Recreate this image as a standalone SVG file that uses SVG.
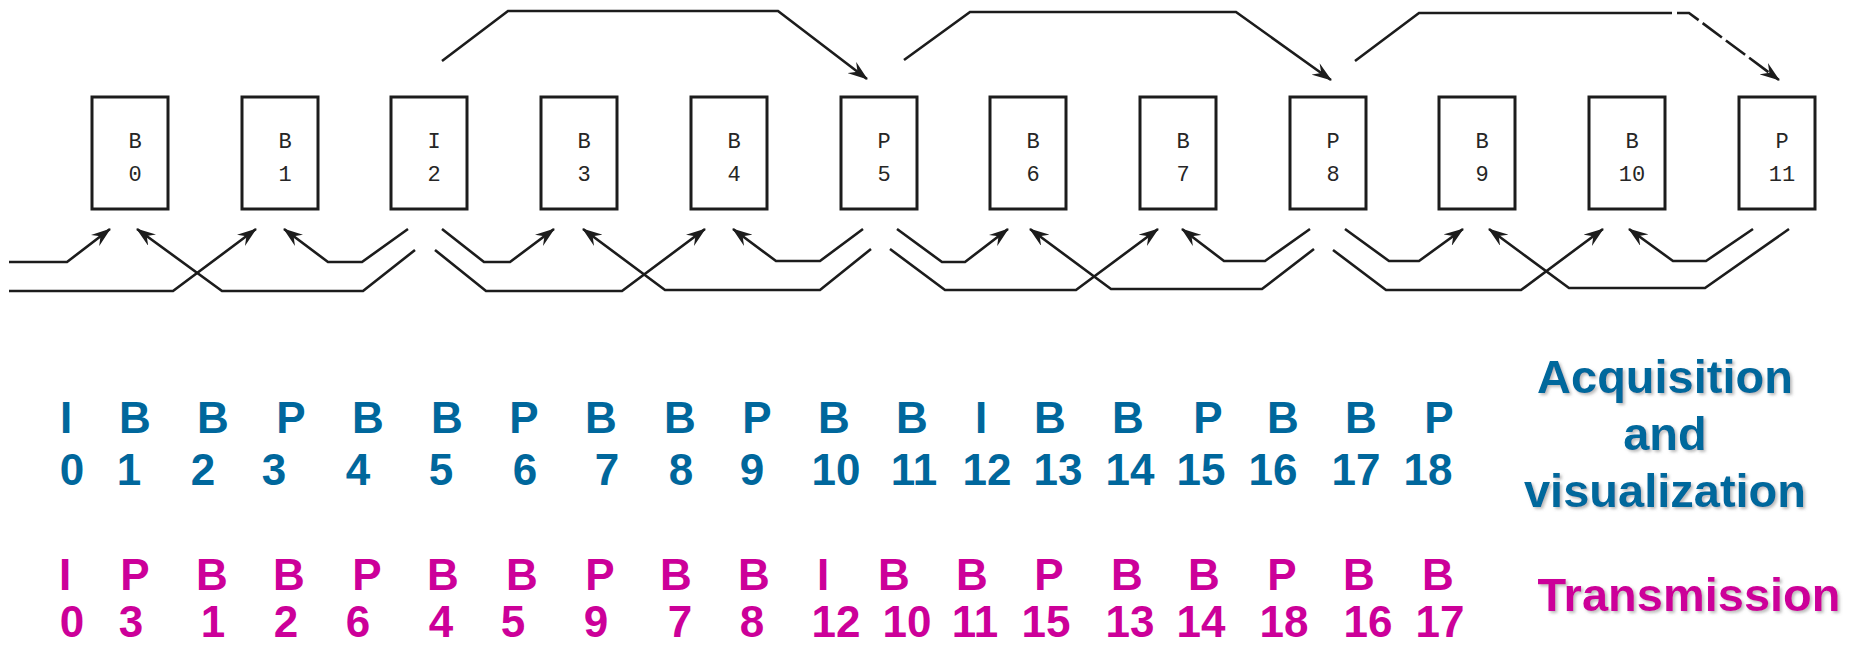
<svg xmlns="http://www.w3.org/2000/svg" width="1856" height="647" viewBox="0 0 1856 647">
<style>
.box rect{fill:#fff;stroke:#1c1c1c;stroke-width:3}
.box text{font-family:"Liberation Mono","DejaVu Sans Mono",monospace;font-size:22px;fill:#262626;text-anchor:middle}
.cn path{fill:none;stroke:#1c1c1c;stroke-width:2.6;stroke-linejoin:miter}
.acq{font-family:"Liberation Sans",Arial,sans-serif;font-weight:bold;font-size:44px;fill:#00679C;text-anchor:middle}
.tx{font-family:"Liberation Sans",Arial,sans-serif;font-weight:bold;font-size:44px;fill:#CC0099;text-anchor:middle}
.lbl{font-family:"Liberation Sans",Arial,sans-serif;font-weight:bold;font-size:47px;text-anchor:middle;filter:url(#sh)}
</style>
<defs>
<marker id="ah" viewBox="0 0 20 14" refX="19" refY="7" markerWidth="20" markerHeight="14" markerUnits="userSpaceOnUse" orient="auto">
<path d="M0,0 L20,7 L0,14 L7,7 Z" fill="#1c1c1c"/>
</marker>
<filter id="sh" x="-10%" y="-20%" width="120%" height="150%">
<feDropShadow dx="2" dy="2" stdDeviation="1.5" flood-color="#777" flood-opacity="0.5"/>
</filter>
</defs>
<rect width="1856" height="647" fill="#fff"/>

<g id="f0" class="box"><rect x="92" y="97" width="76" height="112"/><text x="135" y="148">B</text><text x="135" y="181">0</text></g>
<g id="f1" class="box"><rect x="242" y="97" width="76" height="112"/><text x="285" y="148">B</text><text x="285" y="181">1</text></g>
<g id="f2" class="box"><rect x="391" y="97" width="76" height="112"/><text x="434" y="148">I</text><text x="434" y="181">2</text></g>
<g id="f3" class="box"><rect x="541" y="97" width="76" height="112"/><text x="584" y="148">B</text><text x="584" y="181">3</text></g>
<g id="f4" class="box"><rect x="691" y="97" width="76" height="112"/><text x="734" y="148">B</text><text x="734" y="181">4</text></g>
<g id="f5" class="box"><rect x="841" y="97" width="76" height="112"/><text x="884" y="148">P</text><text x="884" y="181">5</text></g>
<g id="f6" class="box"><rect x="990" y="97" width="76" height="112"/><text x="1033" y="148">B</text><text x="1033" y="181">6</text></g>
<g id="f7" class="box"><rect x="1140" y="97" width="76" height="112"/><text x="1183" y="148">B</text><text x="1183" y="181">7</text></g>
<g id="f8" class="box"><rect x="1290" y="97" width="76" height="112"/><text x="1333" y="148">P</text><text x="1333" y="181">8</text></g>
<g id="f9" class="box"><rect x="1439" y="97" width="76" height="112"/><text x="1482" y="148">B</text><text x="1482" y="181">9</text></g>
<g id="f10" class="box"><rect x="1589" y="97" width="76" height="112"/><text x="1632" y="148">B</text><text x="1632" y="181">10</text></g>
<g id="f11" class="box"><rect x="1739" y="97" width="76" height="112"/><text x="1782" y="148">P</text><text x="1782" y="181">11</text></g>

<g id="connectors" class="cn">
<path d="M442,61 L508,11 L778,11 L867,79" marker-end="url(#ah)"/>
<path d="M904,60 L970,12 L1236,12 L1331,80" marker-end="url(#ah)"/>
<path d="M1355,61 L1419,13 L1672,13"/>
<path d="M1677,13 L1689,13 L1779,80" stroke-dasharray="24,5" marker-end="url(#ah)"/>

<path d="M9,262 L67,262 L110,229" marker-end="url(#ah)"/>
<path d="M9,291 L173,291 L256,229" marker-end="url(#ah)"/>

<path d="M408,229 L362,262 L328,262 L284,229" marker-end="url(#ah)"/>
<path d="M415,250 L363,291 L222,291 L137,229" marker-end="url(#ah)"/>
<path d="M442,229 L484,262 L510,262 L554,229" marker-end="url(#ah)"/>
<path d="M435,250 L486,291 L622,291 L705,229" marker-end="url(#ah)"/>

<path d="M863,229 L820,261 L776,261 L733,229" marker-end="url(#ah)"/>
<path d="M871,249 L820,290 L665,290 L583,229" marker-end="url(#ah)"/>
<path d="M897,229 L942,262 L965,262 L1008,229" marker-end="url(#ah)"/>
<path d="M890,249 L945,290 L1076,290 L1158,229" marker-end="url(#ah)"/>

<path d="M1310,229 L1265,261 L1224,261 L1182,229" marker-end="url(#ah)"/>
<path d="M1314,249 L1262,289 L1111,289 L1030,229" marker-end="url(#ah)"/>
<path d="M1345,229 L1389,261 L1419,261 L1463,229" marker-end="url(#ah)"/>
<path d="M1333,250 L1386,290 L1521,290 L1603,229" marker-end="url(#ah)"/>

<path d="M1753,229 L1706,261 L1673,261 L1629,229" marker-end="url(#ah)"/>
<path d="M1789,229 L1705,288 L1569,288 L1489,229" marker-end="url(#ah)"/>
</g>

<g id="acquisition-order" class="acq">
<text x="66" y="433">I</text><text x="135" y="433">B</text><text x="213" y="433">B</text><text x="291" y="433">P</text><text x="368" y="433">B</text><text x="447" y="433">B</text><text x="524" y="433">P</text><text x="601" y="433">B</text><text x="680" y="433">B</text><text x="757" y="433">P</text><text x="834" y="433">B</text><text x="912" y="433">B</text><text x="981" y="433">I</text><text x="1050" y="433">B</text><text x="1128" y="433">B</text><text x="1208" y="433">P</text><text x="1283" y="433">B</text><text x="1361" y="433">B</text><text x="1439" y="433">P</text>
<text x="72" y="485">0</text><text x="129" y="485">1</text><text x="203" y="485">2</text><text x="274" y="485">3</text><text x="358" y="485">4</text><text x="441" y="485">5</text><text x="525" y="485">6</text><text x="607" y="485">7</text><text x="681" y="485">8</text><text x="752" y="485">9</text><text x="836" y="485">10</text><text x="914" y="485">11</text><text x="987" y="485">12</text><text x="1058" y="485">13</text><text x="1130" y="485">14</text><text x="1201" y="485">15</text><text x="1273" y="485">16</text><text x="1356" y="485">17</text><text x="1428" y="485">18</text>
</g>

<g id="transmission-order" class="tx">
<text x="65" y="590">I</text><text x="135" y="590">P</text><text x="212" y="590">B</text><text x="289" y="590">B</text><text x="367" y="590">P</text><text x="443" y="590">B</text><text x="522" y="590">B</text><text x="600" y="590">P</text><text x="676" y="590">B</text><text x="754" y="590">B</text><text x="823" y="590">I</text><text x="894" y="590">B</text><text x="972" y="590">B</text><text x="1049" y="590">P</text><text x="1127" y="590">B</text><text x="1204" y="590">B</text><text x="1282" y="590">P</text><text x="1359" y="590">B</text><text x="1438" y="590">B</text>
<text x="72" y="637">0</text><text x="131" y="637">3</text><text x="213" y="637">1</text><text x="286" y="637">2</text><text x="358" y="637">6</text><text x="441" y="637">4</text><text x="513" y="637">5</text><text x="596" y="637">9</text><text x="680" y="637">7</text><text x="752" y="637">8</text><text x="836" y="637">12</text><text x="907" y="637">10</text><text x="975" y="637">11</text><text x="1046" y="637">15</text><text x="1130" y="637">13</text><text x="1201" y="637">14</text><text x="1284" y="637">18</text><text x="1368" y="637">16</text><text x="1440" y="637">17</text>
</g>

<g id="label-acquisition">
<text class="lbl" fill="#00679C"><tspan x="1665" y="393">Acquisition</tspan><tspan x="1665" y="450">and</tspan><tspan x="1665" y="507">visualization</tspan></text>
</g>
<g id="label-transmission">
<text class="lbl" fill="#CC0099" x="1689" y="611">Transmission</text>
</g>
</svg>
